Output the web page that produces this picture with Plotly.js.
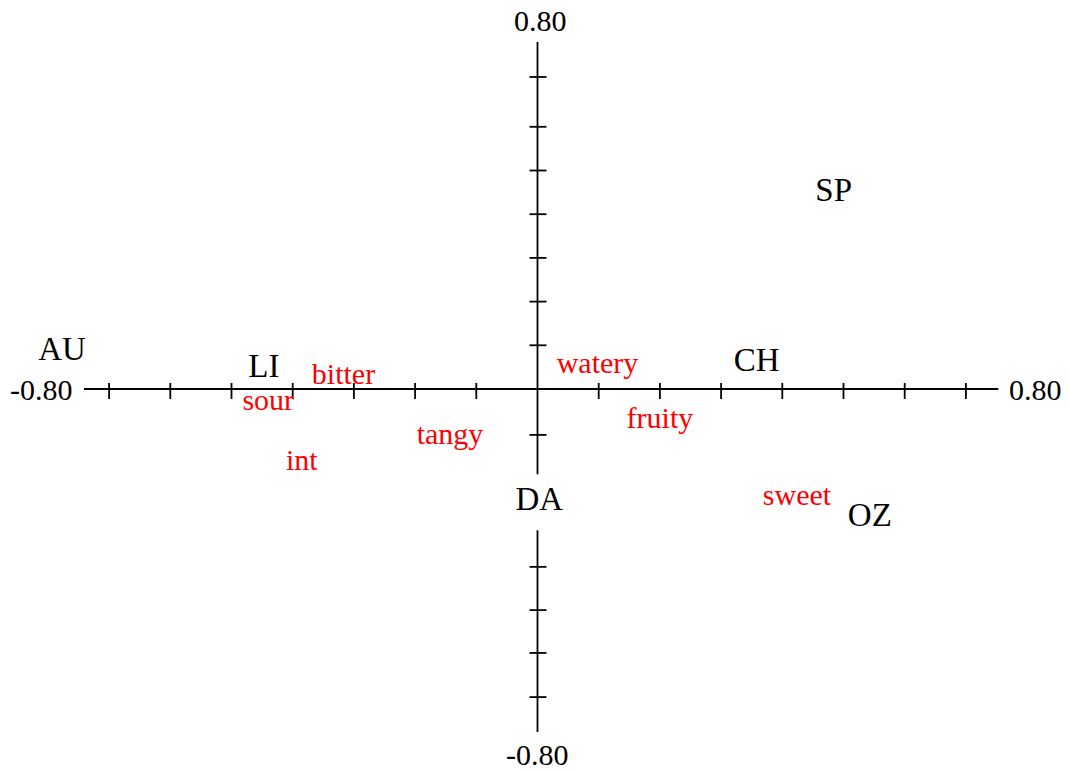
<!DOCTYPE html>
<html><head><meta charset="utf-8">
<script src="https://cdn.plot.ly/plotly-3.0.1.min.js"></script>
<style>html,body{margin:0;padding:0;background:#fff;}#chart{width:1070px;height:772px;}</style>
</head><body><div id="chart"></div>
<script>
// Products (black labels)
var products = ['AU','LI','CH','SP','OZ','DA'];
var productX = [-0.777,-0.447,0.358,0.484,0.543,0.003];
var productY = [0.085,0.046,0.060,0.449,-0.295,-0.259];
// Attributes (red labels)
var attributes = ['bitter','sour','int','tangy','watery','fruity','sweet'];
var attributeX = [-0.317,-0.440,-0.385,-0.143,0.098,0.200,0.424];
var attributeY = [0.028,-0.032,-0.169,-0.108,0.053,-0.073,-0.249];
// Axis ticks and end labels
var xTicks = [-0.7,-0.6,-0.5,-0.4,-0.3,-0.2,-0.1,0.1,0.2,0.3,0.4,0.5,0.6,0.7];
var yTicks = [-0.705,-0.604,-0.506,-0.407,-0.305,-0.205,-0.105,0.1,0.2,0.3,0.4,0.5,0.6,0.714];
var xAxisEnds = [-0.741,0.753];
var yAxisEnds = [-0.785,0.794];
var xEndLabels = ['-0.80','0.80'];
var yEndLabels = ['-0.80','0.80'];

var W = 1070, H = 772;
var xRange = [-0.87827, 0.87010], yRange = [-0.87643, 0.89016];
var pxX = W / (xRange[1] - xRange[0]), pxY = H / (yRange[1] - yRange[0]);
var tUp = 6, tDown = 10, tLeft = 8, tRight = 9;
var FONT = 'Liberation Serif, Times New Roman, serif';
var LW = 1.8;

// axis lines
var axisX = [xAxisEnds[0], xAxisEnds[1], null, 0, 0];
var axisY = [0, 0, null, yAxisEnds[0], yAxisEnds[1]];
// tick segments
var tickX = [], tickY = [];
xTicks.forEach(function(v){ tickX.push(v, v, null); tickY.push(tUp/pxY, -tDown/pxY, null); });
yTicks.forEach(function(v){ tickX.push(-tLeft/pxX, tRight/pxX, null); tickY.push(v, v, null); });

var iDA = products.indexOf('DA');

var traces = [
  {type:'scatter', mode:'lines', x:axisX, y:axisY, line:{color:'#000', width:LW}, hoverinfo:'skip', cliponaxis:false},
  {type:'scatter', mode:'lines', x:tickX, y:tickY, line:{color:'#000', width:LW}, hoverinfo:'skip', cliponaxis:false},
  {type:'scatter', mode:'markers', x:[productX[iDA]], y:[productY[iDA]],
   marker:{symbol:'square', size:56, color:'#fff', line:{width:0}}, hoverinfo:'skip'},
  {type:'scatter', mode:'text', x:productX, y:productY, text:products, textposition:'middle center',
   textfont:{family:FONT, size:33, color:'#000'}, hoverinfo:'skip', cliponaxis:false},
  {type:'scatter', mode:'text', x:attributeX, y:attributeY, text:attributes, textposition:'middle center',
   textfont:{family:FONT, size:30, color:'#ff0000'}, hoverinfo:'skip', cliponaxis:false}
];

var lblFont = {family:FONT, size:30, color:'#000'};
var annotations = [
  {xref:'x', yref:'y', x:xAxisEnds[0], y:0, text:xEndLabels[0], showarrow:false, xanchor:'right', yanchor:'middle', xshift:-9, font:lblFont},
  {xref:'x', yref:'y', x:xAxisEnds[1], y:0, text:xEndLabels[1], showarrow:false, xanchor:'left', yanchor:'middle', xshift:9, font:lblFont},
  {xref:'x', yref:'y', x:0, y:yAxisEnds[1], text:yEndLabels[1], showarrow:false, xanchor:'center', yanchor:'bottom', xshift:3, yshift:3, font:lblFont},
  {xref:'x', yref:'y', x:0, y:yAxisEnds[0], text:yEndLabels[0], showarrow:false, xanchor:'center', yanchor:'top', xshift:0, yshift:-4, font:lblFont}
];

var layout = {
  width: W, height: H,
  margin: {l:0, r:0, t:0, b:0, pad:0},
  paper_bgcolor: '#fff', plot_bgcolor: '#fff',
  showlegend: false,
  xaxis: {range:xRange, visible:false, fixedrange:true},
  yaxis: {range:yRange, visible:false, fixedrange:true},
  annotations: annotations
};

Plotly.newPlot('chart', traces, layout, {staticPlot:true, displayModeBar:false});
</script>
</body></html>
